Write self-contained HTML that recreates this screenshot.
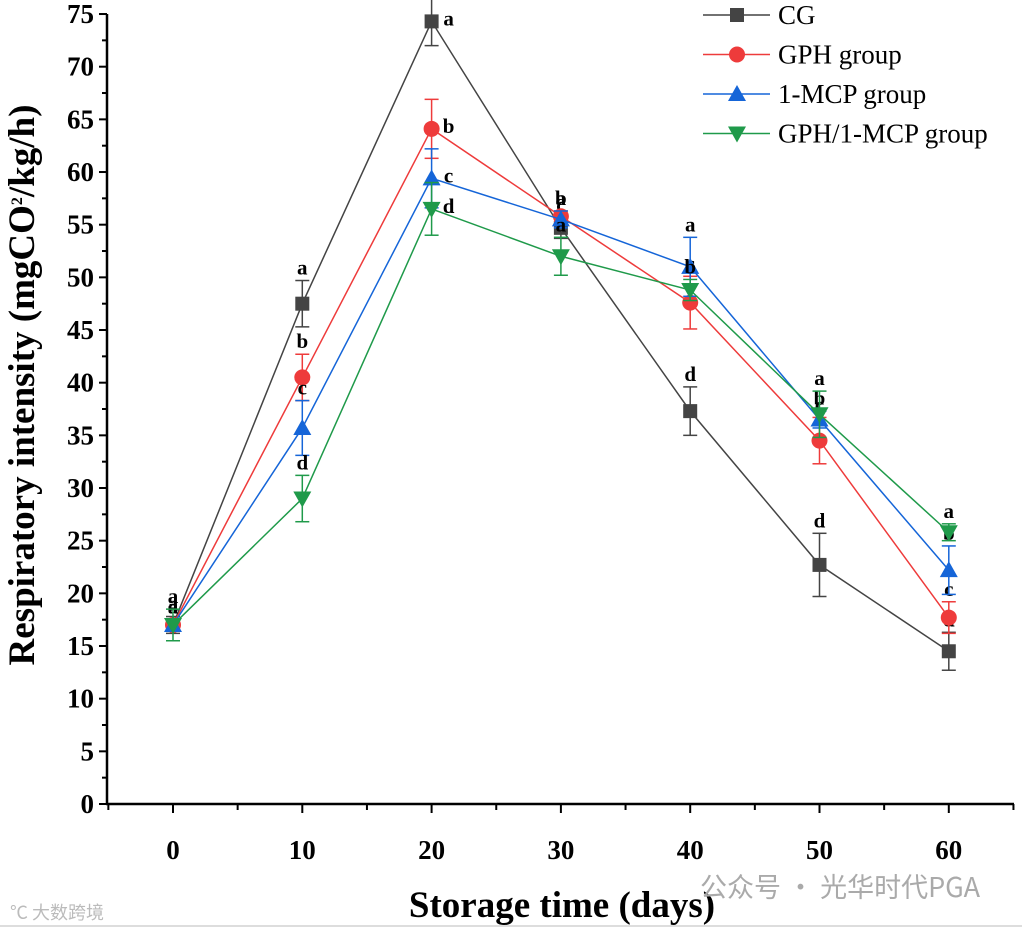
<!DOCTYPE html>
<html><head><meta charset="utf-8"><style>
body{margin:0;background:#fff;width:1022px;height:930px;overflow:hidden}
svg text{font-family:"Liberation Serif",serif}
</style></head><body>
<svg id="c" width="1022" height="930">
<line x1="0" y1="926" x2="1022" y2="926" stroke="#ddd" stroke-width="2"/>
<g id="axes"></g><g id="plot"></g>
<text x="0" y="0" transform="translate(34,385) rotate(-90)" text-anchor="middle" font-size="37" font-weight="bold">Respiratory intensity (mgCO<tspan font-size="16" dy="-12">2</tspan><tspan dy="12">/kg/h)</tspan></text>
<text x="562" y="917" text-anchor="middle" font-size="37" font-weight="bold">Storage time (days)</text>
<text x="700" y="897" font-size="27" fill="#aaa" style="font-family:'Noto Sans CJK SC',sans-serif">公众号 · 光华时代PGA</text>
<text x="10" y="919" font-size="18" fill="#bbb" style="font-family:'Noto Sans CJK SC',sans-serif">℃ 大数跨境</text>
<g id="legend"></g>
</svg>
<script>
const days=[0,10,20,30,40,50,60];
const yTicks=[0,5,10,15,20,25,30,35,40,45,50,55,60,65,70,75];
const seriesNames=["CG","GPH group","1-MCP group","GPH/1-MCP group"];
const cgVals=[17,47.5,74.3,54.7,37.3,22.7,14.5];
const gphVals=[17,40.5,64.1,55.8,47.6,34.5,17.7];
const mcpVals=[17,35.7,59.4,55.5,51,36.5,22.2];
const bothVals=[17,29,56.5,52,48.8,37,25.8];
const cgErr=[0.8,2.2,2.3,1.0,2.3,3,1.8];
const gphErr=[0.5,2.2,2.8,0.5,2.5,2.2,1.5];
const mcpErr=[0.5,2.6,2.8,0.8,2.8,0.8,2.3];
const bothErr=[1.5,2.2,2.5,1.8,1.0,2.2,0.8];
const cgLet=["a","a","a","c","d","d","d"];
const gphLet=["a","b","b","a","c","c","c"];
const mcpLet=["a","c","c","b","a","b","b"];
const bothLet=["a","d","d","a","b","a","a"];
const NS="http://www.w3.org/2000/svg";
const X=v=>173+12.93*v, Y=v=>804-v*10.533;
function mk(tag,at,parent,txt){const e=document.createElementNS(NS,tag);for(const k in at)e.setAttribute(k,at[k]);if(txt!=null)e.textContent=txt;parent.appendChild(e);return e;}
const ax=document.getElementById('axes'),pl=document.getElementById('plot'),lg=document.getElementById('legend');
let e=mk('line',{x1:107,y1:14,x2:107,y2:805,stroke:'#000','stroke-width':2.5},ax);

e=mk('line',{x1:106,y1:804,x2:1014,y2:804,stroke:'#000','stroke-width':2.5},ax);

yTicks.forEach(t=>{mk('line',{x1:99,y1:Y(t),x2:107,y2:Y(t),stroke:'#000','stroke-width':2},ax);
 if(t<75)mk('line',{x1:102,y1:Y(t+2.5),x2:107,y2:Y(t+2.5),stroke:'#000','stroke-width':2},ax);
 e=mk('text',{x:94,y:Y(t)+9,'text-anchor':'end','font-size':27,'font-weight':'bold'},ax,t);
 });
[-5,5,15,25,35,45,55,65].forEach(t=>mk('line',{x1:X(t),y1:804,x2:X(t),y2:810,stroke:'#000','stroke-width':2},ax));
days.forEach(t=>{mk('line',{x1:X(t),y1:804,x2:X(t),y2:813,stroke:'#000','stroke-width':2},ax);
 e=mk('text',{x:X(t),y:859,'text-anchor':'middle','font-size':27,'font-weight':'bold'},ax,t);
 });
const S=[[cgVals,cgErr,cgLet,'#444','sq'],[gphVals,gphErr,gphLet,'#ee3b3b','ci'],[mcpVals,mcpErr,mcpLet,'#1565d8','up'],[bothVals,bothErr,bothLet,'#1f9a4a','dn']];
function marker(sh,x,y,c,p){
 if(sh==='sq')return mk('rect',{x:x-7,y:y-7,width:14,height:14,fill:c},p);
 if(sh==='ci')return mk('circle',{cx:x,cy:y,r:8,fill:c},p);
 if(sh==='up')return mk('polygon',{points:`${x},${y-9} ${x-9},${y+7} ${x+9},${y+7}`,fill:c},p);
 return mk('polygon',{points:`${x},${y+9} ${x-9},${y-7} ${x+9},${y-7}`,fill:c},p);}
S.forEach((s,i)=>{const [v,er,lt,c,sh]=s;
 const g=mk('g',{},pl);
 e=mk('polyline',{points:days.map((d,j)=>X(d)+','+Y(v[j])).join(' '),fill:'none',stroke:c,'stroke-width':1.5},g);
 
 days.forEach((d,j)=>{const x=X(d),y1=Y(v[j]+er[j]),y2=Y(v[j]-er[j]);
  mk('line',{x1:x,y1:y1,x2:x,y2:y2,stroke:c,'stroke-width':1.5},g);
  mk('line',{x1:x-7,y1:y1,x2:x+7,y2:y1,stroke:c,'stroke-width':1.5},g);
  mk('line',{x1:x-7,y1:y2,x2:x+7,y2:y2,stroke:c,'stroke-width':1.5},g);
  e=marker(sh,x,Y(v[j]),c,g);
  e=mk('text',{x:x+(d===20?17:0),y:d===20?Y(v[j])+4:y1-6,'text-anchor':'middle','font-size':21,'font-weight':'bold'},g,lt[j]);
  });
 const ly=15+i*39.5;
 const lgEntry=mk('g',{},lg);
 mk('line',{x1:703,y1:ly,x2:770,y2:ly,stroke:c,'stroke-width':1.5},lgEntry);
 marker(sh,737,ly,c,lgEntry);
 mk('text',{x:778,y:ly+9,'font-size':27},lgEntry,seriesNames[i]);
});
</script>
</body></html>
